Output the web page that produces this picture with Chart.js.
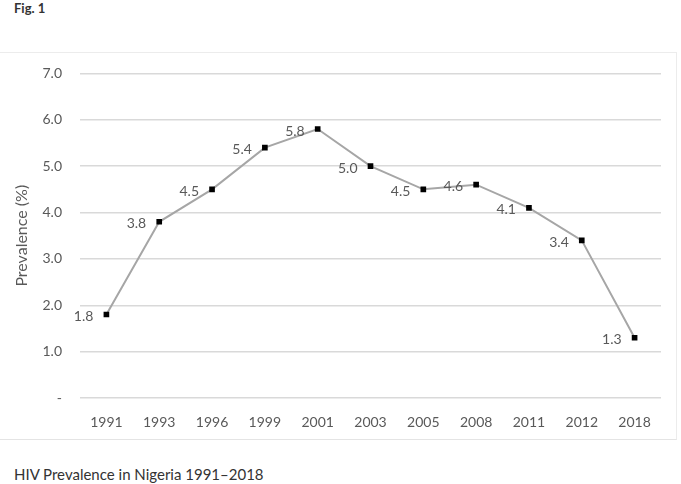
<!DOCTYPE html>
<html>
<head>
<meta charset="utf-8">
<script src="https://cdn.jsdelivr.net/npm/chart.js@4"></script>
<style>
  html, body { margin: 0; padding: 0; background: #fff; }
  body { width: 681px; height: 484px; position: relative; overflow: hidden; font-family: Lato, 'Open Sans', sans-serif; }
  #fig { position: absolute; left: 14px; top: 0px; font-size: 13px; font-weight: bold; color: #333; }
  #panel { position: absolute; left: 0; top: 52px; width: 677px; height: 388px;
    border-top: 1px solid #ececec; border-right: 1px solid #ececec; border-bottom: 1px solid #e4e4e4; box-sizing: border-box; }
  #wrap { position: absolute; left: 0; top: 47px; width: 676px; height: 392px; }
  #caption { position: absolute; left: 14px; top: 465px; font-size: 15px; color: #333; }
</style>
</head>
<body>
<div id="fig">Fig. 1</div>
<div id="panel"></div>
<div id="wrap"><canvas id="chart"></canvas></div>
<div id="caption">HIV Prevalence in Nigeria 1991–2018</div>
<script>
// ─── DATA ───
const years = ['1991', '1993', '1996', '1999', '2001', '2003', '2005', '2008', '2011', '2012', '2018'];
const prevalence = [1.8, 3.8, 4.5, 5.4, 5.8, 5.0, 4.5, 4.6, 4.1, 3.4, 1.3];
const yTicks = [0, 1, 2, 3, 4, 5, 6, 7];

const TEXT_GREY = '#595959';

// value labels to the left of each marker
const pointLabels = {
  id: 'pointLabels',
  afterDatasetsDraw(chart) {
    const ctx = chart.ctx;
    const meta = chart.getDatasetMeta(0);
    ctx.save();
    ctx.font = '14px Lato, sans-serif';
    ctx.fillStyle = TEXT_GREY;
    ctx.textAlign = 'right';
    ctx.textBaseline = 'middle';
    meta.data.forEach((pt, i) => {
      ctx.fillText(prevalence[i].toFixed(1), pt.x - 13, pt.y + 2);
    });
    ctx.restore();
  }
};

new Chart(document.getElementById('chart'), {
  type: 'line',
  data: {
    labels: years,
    datasets: [{
      data: prevalence,
      borderColor: '#a6a6a6',
      borderWidth: 2,
      tension: 0,
      pointStyle: 'rect',
      pointRadius: 4,
      pointBackgroundColor: '#000',
      pointBorderColor: '#000',
      pointBorderWidth: 0,
    }],
  },
  options: {
    responsive: true,
    maintainAspectRatio: false,
    animation: false,
    layout: { padding: { top: 12, right: 15, left: 0, bottom: 0 } },
    plugins: { legend: { display: false }, tooltip: { enabled: false } },
    scales: {
      x: {
        offset: true,
        grid: { display: false },
        border: { display: false },
        ticks: { color: TEXT_GREY, font: { family: 'Lato', size: 14 }, padding: 8, maxRotation: 0 },
        afterFit: s => { s.height = 41; },
      },
      y: {
        min: 0, max: 7,
        afterBuildTicks: s => { s.ticks = yTicks.map(v => ({ value: v })); },
        grid: { color: '#d9d9d9', lineWidth: 1.5, drawTicks: false },
        border: { display: false },
        ticks: {
          color: TEXT_GREY, font: { family: 'Lato', size: 14 }, padding: 18,
          callback: v => v === 0 ? '-' : v.toFixed(1),
        },
        title: { display: true, text: 'Prevalence (%)', color: TEXT_GREY, font: { family: 'Lato', size: 16 }, padding: { top: 12 } },
        afterFit: s => { s.width = 80; },
      },
    },
  },
  plugins: [pointLabels],
});
</script>
</body>
</html>
